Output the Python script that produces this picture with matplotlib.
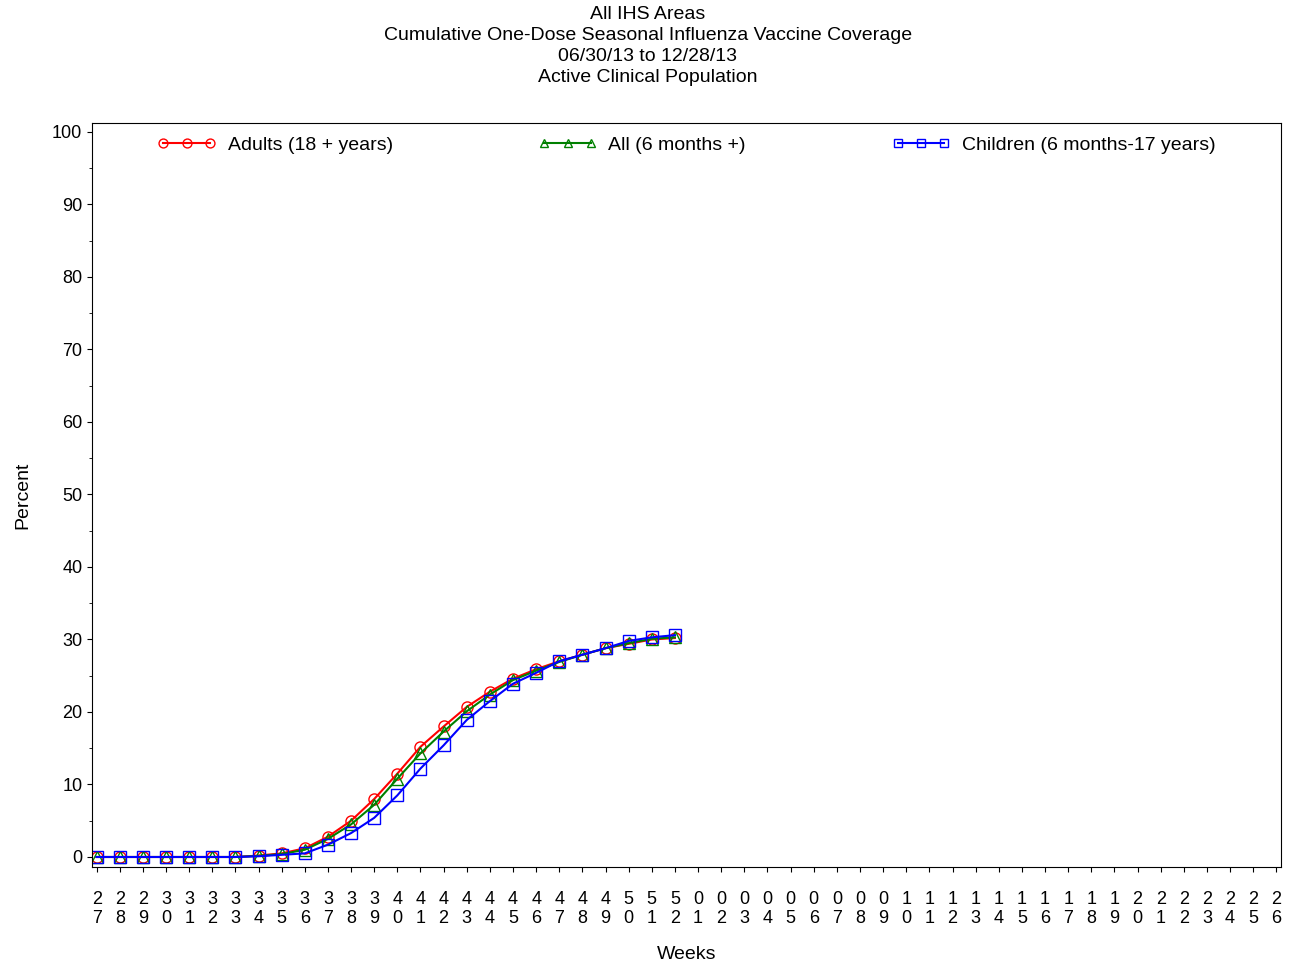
import matplotlib
matplotlib.use("Agg")
import matplotlib.pyplot as plt
from matplotlib.ticker import MultipleLocator

weeks = [f"{w:02d}" for w in list(range(27, 53)) + list(range(1, 27))]
adults = [0, 0, 0, 0, 0, 0, 0, 0.2, 0.5, 1.2, 2.8, 5.0, 8.0, 11.5, 15.2, 18.0,
          20.7, 22.8, 24.6, 25.9, 27.0, 27.9, 28.8, 29.4, 30.0, 30.2]
all_ages = [0, 0, 0, 0, 0, 0, 0, 0.15, 0.4, 1.0, 2.5, 4.5, 7.2, 10.8, 14.3, 17.3,
            20.1, 22.4, 24.4, 25.7, 26.9, 27.9, 28.8, 29.5, 30.1, 30.3]
children = [0, 0, 0, 0, 0, 0, 0, 0.1, 0.3, 0.5, 1.7, 3.3, 5.4, 8.5, 12.2, 15.4,
            18.9, 21.5, 23.9, 25.4, 27.0, 27.9, 28.8, 29.8, 30.3, 30.6]

plt.rcParams["font.family"] = "Liberation Sans"
fig = plt.figure(figsize=(12.96, 9.67), dpi=100)
ax = fig.add_axes([92 / 1296, 1 - 867 / 967, (1281 - 92) / 1296, (867 - 123) / 967])

x = range(len(adults))
kw = dict(markersize=8, markerfacecolor="none", lw=1.5)
ax.plot(x, adults, color="red", marker="o", label="Adults (18 + years)", **kw)
ax.plot(x, all_ages, color="green", marker="^", label="All (6 months +)", **kw)
ax.plot(x, children, color="blue", marker="s", label="Children (6 months-17 years)", **kw)

ax.set_xlim(-0.2, 51.2)
ax.set_ylim(-1.38, 101.24)
ax.set_xticks(range(len(weeks)))
ax.set_xticklabels([w[0] + "\n" + w[1] for w in weeks], fontsize=13, linespacing=1.1)
ax.tick_params(axis="x", pad=14)
ax.yaxis.set_major_locator(MultipleLocator(10))
ax.yaxis.set_minor_locator(MultipleLocator(5))
ax.tick_params(axis="y", labelsize=13)
ax.set_xlabel("Weeks", fontsize=14, labelpad=14)
ax.set_ylabel("Percent", fontsize=14, labelpad=15)

leg = ax.legend(loc="upper center", ncol=3, frameon=False, fontsize=14,
                columnspacing=7.5, handlelength=3, numpoints=3, markerscale=0.8,
                borderaxespad=0.3, handletextpad=0.6)

fig.text(0.5, 1 - 6 / 967, "All IHS Areas\nCumulative One-Dose Seasonal Influenza Vaccine Coverage\n"
         "06/30/13 to 12/28/13\nActive Clinical Population",
         ha="center", va="top", fontsize=14, linespacing=1.3)

fig.savefig("out.png", dpi=100)
